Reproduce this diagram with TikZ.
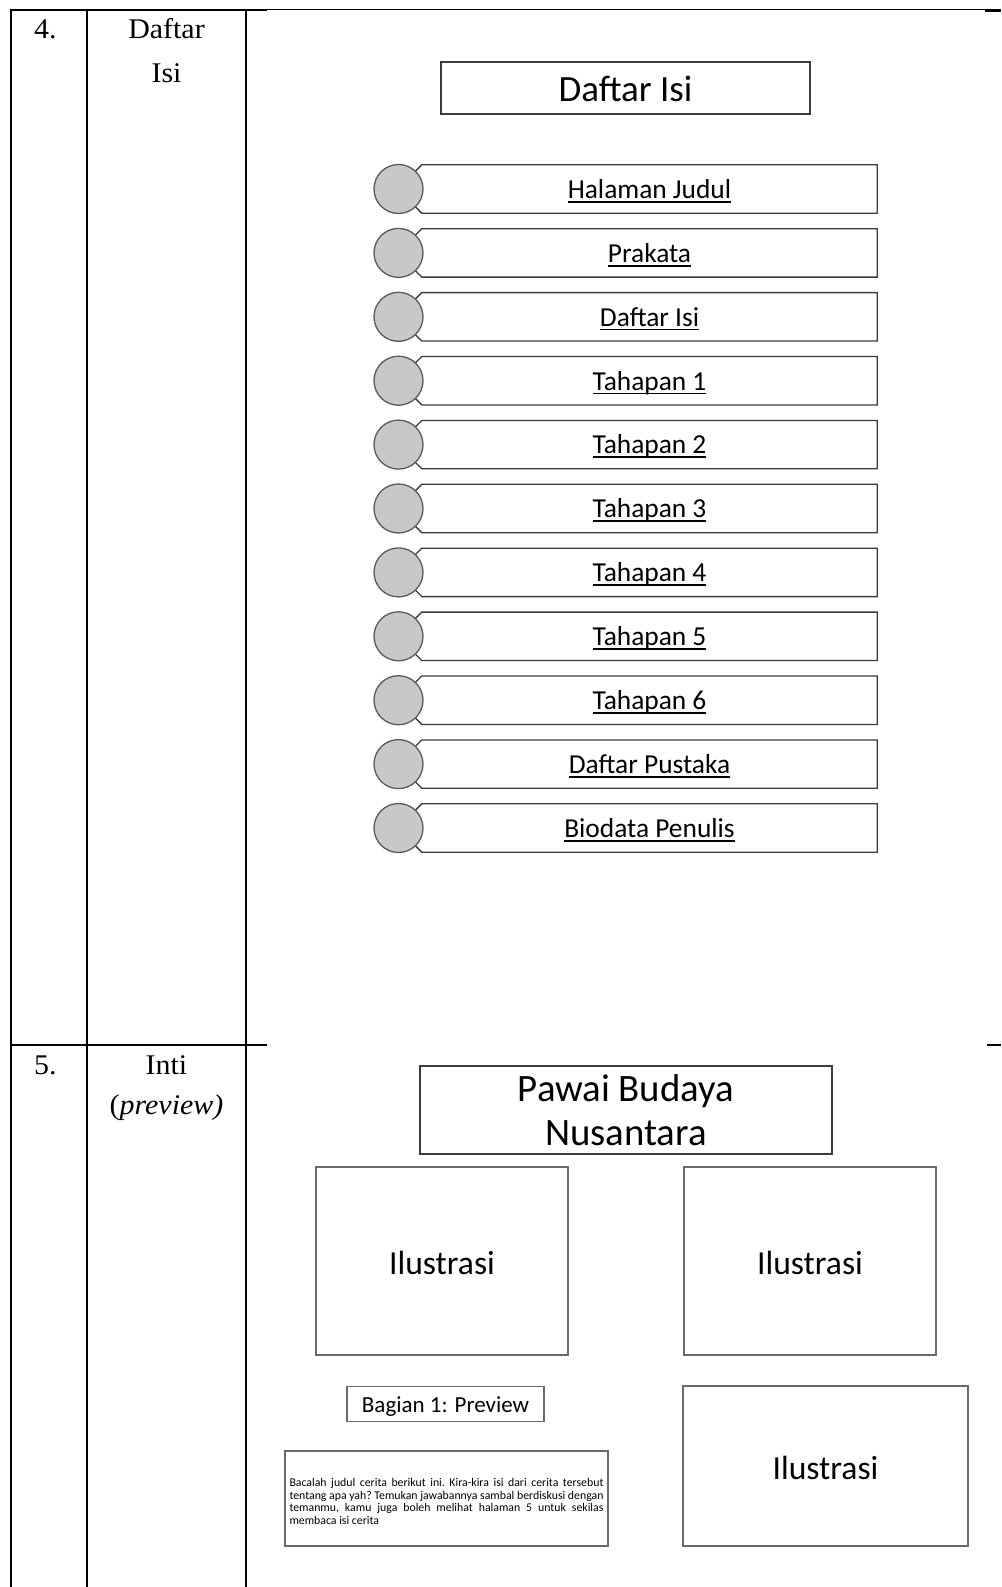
\documentclass[tikz,border=0pt]{standalone}
\usepackage{fontspec}
\newfontfamily\tnr{Liberation Serif}[FakeStretch=1.05]
\newfontfamily\calfont{Carlito}
\usetikzlibrary{calc}
\definecolor{boxgray}{HTML}{3C3C3C}
\definecolor{lightbox}{HTML}{6A6A6A}
\definecolor{circfill}{HTML}{C8C8C8}
\definecolor{circline}{HTML}{5A5A5A}
\newlength\myulw
\newcommand\myul[1]{\settowidth\myulw{#1}\rlap{\rule[-4.2pt]{\myulw}{1.7pt}}#1}
\newcommand\lowerby[2]{\raisebox{-#1}[\height][\depth]{#2}}
\tikzset{
  tbl/.style={line width=2.8pt, black},
  tabtext/.style={font=\tnr\fontsize{28.5}{33}\selectfont, inner sep=0pt},
  titlebox/.style={draw=boxgray, line width=1.3pt, font=\calfont\fontsize{37}{44}\selectfont, inner sep=0pt},
  itembox/.style={inner sep=0pt, minimum width=455pt, minimum height=48pt, font=\calfont\fontsize{27.4}{32}\selectfont},
  itemline/.style={draw=boxgray, line width=1.3pt},
  itemcirc/.style={circle, draw=circline, fill=circfill, line width=1.3pt, minimum size=49pt, inner sep=0pt},
  illbox/.style={draw=lightbox, line width=1.1pt, inner sep=0pt, font=\calfont\fontsize{33.6}{40}\selectfont},
}
\begin{document}
\begin{tikzpicture}[x=1pt,y=-1pt]
\fill[white] (0,0) rectangle (1001,1587);
\useasboundingbox (0,0) rectangle (1001,1587);

% table frame
\draw[tbl] (11,8.6)--(11,1587);
\draw[tbl] (87,8.6)--(87,1587);
\draw[tbl] (246,8.6)--(246,1587);
\draw[tbl] (9.6,10)--(267,10);
\draw[black, line width=1.2pt] (267,9.6)--(985,9.6);
\draw[black, line width=2.2pt] (985,10.6)--(1001,10.6);
\draw[tbl] (9.6,1045)--(267,1045);
\draw[black, line width=2.2pt] (987,1045)--(1001,1045);

% left column texts
\node[tabtext, anchor=base west] (no4) at (34,39) {4.};
\node[tabtext, anchor=base] (daftar) at (166.5,39) {Daftar};
\node[tabtext, anchor=base] (isi) at (166.5,82) {Isi};
\node[tabtext, anchor=base west] (no5) at (34,1074) {5.};
\node[tabtext, anchor=base] (inti) at (166.5,1074) {Inti};
\node[tabtext, anchor=base] (prev) at (166.5,1114) {(\textit{preview)}};

% Daftar Isi page
\node[titlebox, minimum width=369pt, minimum height=52pt] (title) at (625.5,88) {\lowerby{1pt}{Daftar Isi}};

\foreach \t [count=\i from 0] in {Halaman Judul, Prakata, Daftar Isi, Tahapan 1, Tahapan 2, Tahapan 3, Tahapan 4, Tahapan 5, Tahapan 6, Daftar Pustaka, Biodata Penulis}{
  \pgfmathsetmacro\yc{189+63.9*\i}
  \node[itembox] (b\i) at (649.5,\yc) {\lowerby{2pt}{\myul{\t}}};
  \draw[itemline] ($(b\i.north west)+(-9,9)$) -- (b\i.north west) -- (b\i.north east) -- (b\i.south east) -- (b\i.south west) -- ($(b\i.south west)+(-9,-9)$);
  \node[itemcirc] (c\i) at (398.5,\yc) {};
}

% Inti preview page
\node[titlebox, minimum width=412pt, minimum height=88pt, align=center, font=\calfont\fontsize{38.8}{44}\selectfont] (ptitle) at (626,1110) {Pawai Budaya\\Nusantara};
\node[illbox, minimum width=252pt, minimum height=188pt] (ill1) at (442,1261) {\lowerby{2pt}{Ilustrasi}};
\node[illbox, minimum width=252pt, minimum height=188pt] (ill2) at (810,1261) {\lowerby{2pt}{Ilustrasi}};
\node[illbox, minimum width=285pt, minimum height=160pt] (ill3) at (825.5,1466) {\lowerby{2pt}{Ilustrasi}};
\node[illbox, minimum width=197pt, minimum height=35pt, font=\calfont\fontsize{23}{28}\selectfont] (bag) at (445.5,1404) {\lowerby{3pt}{Bagian 1: Preview}};
\node[illbox, minimum width=323pt, minimum height=95pt, align=left, font=\calfont\fontsize{11.8}{12.4}\selectfont\frenchspacing] (para) at (446.5,1498.5) {%
\lowerby{3pt}{\makebox[314pt][s]{Bacalah judul cerita berikut ini. Kira-kira isi dari cerita tersebut}}\\
\lowerby{3pt}{\makebox[314pt][s]{tentang apa yah? Temukan jawabannya sambal berdiskusi dengan}}\\
\lowerby{3pt}{\makebox[314pt][s]{temanmu, kamu juga boleh melihat halaman 5 untuk sekilas}}\\
\lowerby{3pt}{\makebox[314pt][l]{membaca isi cerita}}};
\end{tikzpicture}
\end{document}
